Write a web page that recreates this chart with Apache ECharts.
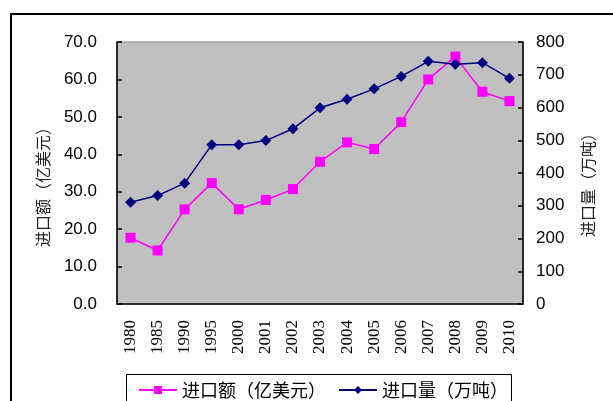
<!DOCTYPE html>
<html>
<head>
<meta charset="utf-8">
<script src="https://cdn.jsdelivr.net/npm/echarts@6/dist/echarts.min.js"></script>
<style>
html,body{margin:0;padding:0;background:#fff;}
#c{width:613px;height:401px;}
</style>
</head>
<body>
<div id="c"></div>
<script>
var years = ['1980','1985','1990','1995','2000','2001','2002','2003','2004','2005','2006','2007','2008','2009','2010'];
var importValue = [17.7, 14.3, 25.3, 32.3, 25.3, 27.8, 30.7, 38.0, 43.2, 41.4, 48.6, 60.0, 66.1, 56.7, 54.2];
var importVolume = [311, 331, 369, 486, 486, 499, 535, 599, 625, 657, 695, 741, 732, 737, 689];
var valueName = '进口额（亿美元）';
var volumeName = '进口量（万吨）';

var chart = echarts.init(document.getElementById('c'), null, {renderer: 'canvas'});
var cjk = '"Noto Sans CJK SC", sans-serif';
chart.setOption({
  animation: false,
  backgroundColor: '#ffffff',
  grid: {
    left: 117, top: 42, right: 90, bottom: 97,
    show: true, backgroundColor: '#C0C0C0', borderColor: '#808080', borderWidth: 1
  },
  legend: {
    left: 133, top: 376,
    itemWidth: 38, itemHeight: 10, itemGap: 12,
    textStyle: {fontFamily: cjk, fontSize: 18, color: '#000'},
    data: [valueName, volumeName]
  },
  graphic: [
    {type: 'rect', z: -1, shape: {x: 11, y: 14, width: 700, height: 500}, style: {fill: 'none', stroke: '#000', lineWidth: 2}},
    {type: 'rect', z: 0, shape: {x: 126.5, y: 374.5, width: 385, height: 60}, style: {fill: '#fff', stroke: '#000', lineWidth: 1}},
    {type: 'text', x: 43, y: 183, rotation: Math.PI / 2, style: {text: valueName, fontFamily: cjk, fontSize: 16, fill: '#222', align: 'center', verticalAlign: 'middle'}},
    {type: 'text', x: 588, y: 181, rotation: Math.PI / 2, style: {text: volumeName, fontFamily: cjk, fontSize: 16, fill: '#222', align: 'center', verticalAlign: 'middle'}}
  ],
  xAxis: {
    type: 'category',
    data: years,
    boundaryGap: true,
    axisLine: {lineStyle: {color: '#000', width: 1.5}},
    axisTick: {inside: true, length: 5, lineStyle: {color: '#000', width: 1.5}},
    axisLabel: {rotate: 90, margin: 16, fontFamily: '"Liberation Serif", serif', fontSize: 17, color: '#000', interval: 0},
    splitLine: {show: false}
  },
  yAxis: [
    {
      type: 'value', min: 0, max: 70, interval: 10, position: 'left',
      axisLine: {show: true, lineStyle: {color: '#000', width: 1.5}},
      axisTick: {show: true, inside: true, length: 5, lineStyle: {color: '#000', width: 1.5}},
      axisLabel: {margin: 20, fontFamily: '"Liberation Sans", Arial, sans-serif', fontSize: 17, color: '#000', formatter: function (v) { return v.toFixed(1); }},
      splitLine: {show: false}
    },
    {
      type: 'value', min: 0, max: 800, interval: 100, position: 'right',
      axisLine: {show: true, lineStyle: {color: '#000', width: 1.5}},
      axisTick: {show: true, inside: true, length: 5, lineStyle: {color: '#000', width: 1.5}},
      axisLabel: {margin: 13, fontFamily: '"Liberation Sans", Arial, sans-serif', fontSize: 17, color: '#000'},
      splitLine: {show: false}
    }
  ],
  series: [
    {
      name: valueName, type: 'line', yAxisIndex: 0, data: importValue,
      symbol: 'rect', symbolSize: 10, showAllSymbol: true,
      lineStyle: {color: '#FF00FF', width: 1.5},
      itemStyle: {color: '#FF00FF'}
    },
    {
      name: volumeName, type: 'line', yAxisIndex: 1, data: importVolume,
      symbol: 'diamond', symbolSize: 11, showAllSymbol: true,
      lineStyle: {color: '#000080', width: 1.5},
      itemStyle: {color: '#000080'}
    }
  ]
});
</script>
</body>
</html>
